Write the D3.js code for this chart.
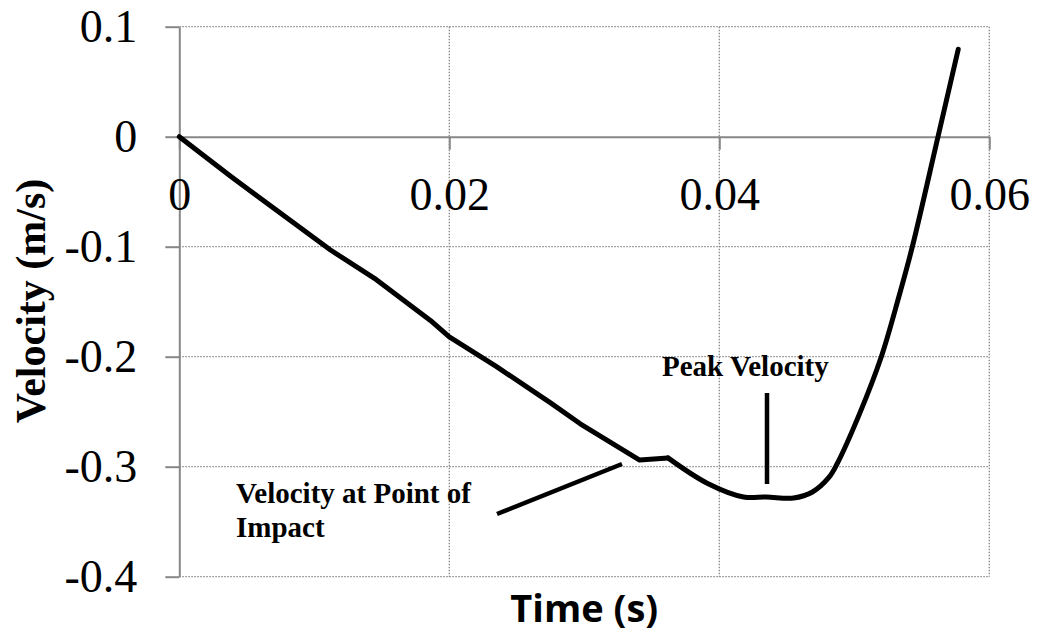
<!DOCTYPE html>
<html>
<head>
<meta charset="utf-8">
<script src="https://cdn.jsdelivr.net/npm/d3@7"></script>
<style>
  body { margin: 0; background: #fff; }
</style>
</head>
<body>
<div id="chart"></div>
<script>
// time (s) and velocity (m/s)
const timeValues = [0, 0.0038, 0.0112, 0.0146, 0.0186, 0.0200, 0.0235, 0.0275, 0.0297, 0.0341, 0.0362,
    0.0391, 0.0418, 0.0435, 0.0455, 0.0469, 0.0481, 0.0487, 0.0504, 0.0520, 0.0533, 0.0543,
    0.0562, 0.0577];
const velocityValues = [0, -0.036, -0.103, -0.130, -0.167, -0.182, -0.209, -0.242, -0.261, -0.294, -0.292,
    -0.315, -0.3275, -0.3275, -0.3285, -0.323, -0.310, -0.298, -0.2515, -0.200, -0.1455, -0.100,
    0.000, 0.0795];
// the trace is straight-segmented up to this point, smooth after it
const smoothFrom = 10;

const xTicks = [0, 0.02, 0.04, 0.06];
const xTickLabels = ["0", "0.02", "0.04", "0.06"];
const yTicks = [0.1, 0, -0.1, -0.2, -0.3, -0.4];
const yTickLabels = ["0.1", "0", "-0.1", "-0.2", "-0.3", "-0.4"];

const width = 1043, height = 633;
const gray = "#878787";

const x = d3.scaleLinear().domain([0, 0.06]).range([179.3, 989.3]);
const y = d3.scaleLinear().domain([-0.4, 0.1]).range([576.7, 26.7]);

const svg = d3.select("#chart").append("svg")
    .attr("width", width)
    .attr("height", height);

// dotted grid
svg.append("g")
    .selectAll("line")
    .data(yTicks.filter(d => d !== 0))
    .join("line")
        .attr("x1", x(0)).attr("x2", x(0.06))
        .attr("y1", d => y(d)).attr("y2", d => y(d))
        .attr("stroke", gray).attr("stroke-width", 1.3)
        .attr("stroke-dasharray", "1.5,1.5");

svg.append("g")
    .selectAll("line")
    .data(xTicks.filter(d => d !== 0))
    .join("line")
        .attr("x1", d => x(d)).attr("x2", d => x(d))
        .attr("y1", y(0.1)).attr("y2", y(-0.4))
        .attr("stroke", gray).attr("stroke-width", 1.3)
        .attr("stroke-dasharray", "1.5,1.5");

// y axis
const yAxis = svg.append("g")
    .attr("transform", `translate(${x(0)},0)`)
    .call(d3.axisLeft(y)
        .tickValues(yTicks)
        .tickFormat((d, i) => yTickLabels[i])
        .tickSize(14)
        .tickSizeOuter(0)
        .tickPadding(28));

// x axis on zero line
const xAxis = svg.append("g")
    .attr("transform", `translate(0,${y(0)})`)
    .call(d3.axisBottom(x)
        .tickValues(xTicks)
        .tickFormat((d, i) => xTickLabels[i])
        .tickSize(13)
        .tickSizeOuter(0)
        .tickPadding(27.6));

[yAxis, xAxis].forEach(a => {
    a.selectAll("path, line").attr("stroke", gray).attr("stroke-width", 2);
    a.selectAll("text")
        .attr("fill", "#000")
        .attr("font-family", "'Liberation Serif', 'Times New Roman', serif")
        .attr("font-size", 46);
});
yAxis.selectAll("text").attr("dy", "0.33em");

// data line
const points = timeValues.map((t, i) => [t, velocityValues[i]]);

const straight = d3.line()
    .x(d => x(d[0]))
    .y(d => y(d[1]));

const smooth = d3.line()
    .x(d => x(d[0]))
    .y(d => y(d[1]))
    .curve(d3.curveCatmullRom.alpha(0.5));

[[points.slice(0, smoothFrom + 1), straight], [points.slice(smoothFrom), smooth]].forEach(([pts, gen]) => {
    svg.append("path")
        .datum(pts)
        .attr("fill", "none")
        .attr("stroke", "#000")
        .attr("stroke-width", 5)
        .attr("stroke-linejoin", "round")
        .attr("stroke-linecap", "round")
        .attr("d", gen);
});

// annotations
const serifBold = "'Liberation Serif', 'Times New Roman', serif";

svg.append("text")
    .attr("x", 662).attr("y", 376)
    .attr("font-family", serifBold).attr("font-weight", "bold").attr("font-size", 29)
    .text("Peak Velocity");

svg.append("line")
    .attr("x1", 767).attr("x2", 767)
    .attr("y1", 393).attr("y2", 484)
    .attr("stroke", "#000").attr("stroke-width", 4.5);

const impact = svg.append("text")
    .attr("font-family", serifBold).attr("font-weight", "bold").attr("font-size", 29);
impact.append("tspan").attr("x", 236).attr("y", 503).text("Velocity at Point of");
impact.append("tspan").attr("x", 236).attr("y", 537).text("Impact");

svg.append("line")
    .attr("x1", 497).attr("y1", 514)
    .attr("x2", 622).attr("y2", 464)
    .attr("stroke", "#000").attr("stroke-width", 4.5);

// axis titles
svg.append("text")
    .attr("transform", "translate(45,301) rotate(-90)")
    .attr("text-anchor", "middle")
    .attr("font-family", serifBold).attr("font-weight", "bold").attr("font-size", 42)
    .text("Velocity (m/s)");

svg.append("text")
    .attr("x", (x(0) + x(0.06)) / 2).attr("y", 622)
    .attr("text-anchor", "middle")
    .attr("font-family", "'Open Sans', sans-serif").attr("font-weight", "bold").attr("font-size", 38)
    .text("Time (s)");
</script>
</body>
</html>
